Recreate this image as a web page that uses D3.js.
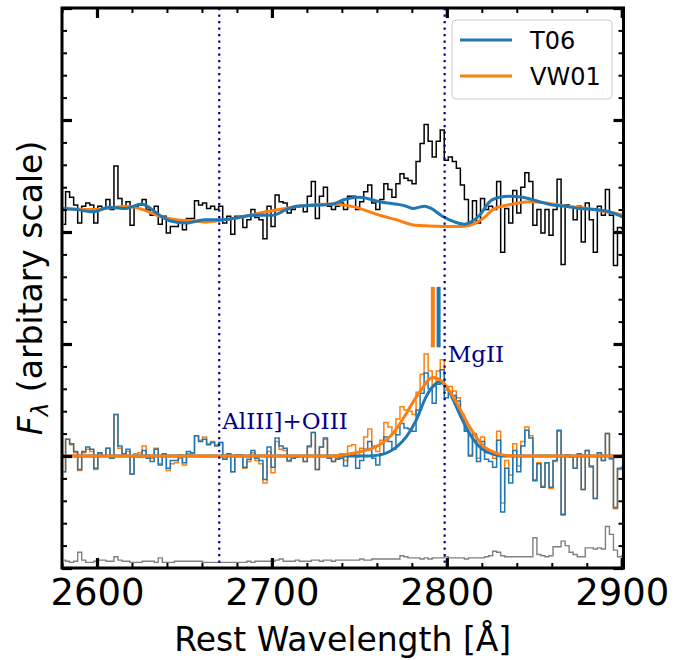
<!DOCTYPE html>
<html><head><meta charset="utf-8">
<script src="https://cdn.jsdelivr.net/npm/d3@7"></script>
<style>body{margin:0;background:#fff;} svg{display:block;}</style>
</head><body>
<svg id="chart" width="697" height="660"></svg>
<script>
// ---------- data ----------
const firstWave = 2580.9;   // centre of first spectral bin [Å]
const binStep = 2.303;      // bin width [Å]

const fluxObs = [
 3.07,3.36,3.31,3.24,3.08,3.23,3.26,3.24,3.08,3.23,
 3.21,3.29,3.20,3.59,3.30,3.23,3.27,3.06,3.23,3.24,
 3.29,3.20,3.15,3.23,3.07,3.14,2.99,3.05,3.05,3.09,
 3.02,3.12,3.12,3.28,3.24,3.26,3.21,3.23,3.20,3.23,
 3.08,3.14,2.98,3.14,3.14,3.04,3.11,3.20,3.13,3.11,
 2.94,3.23,3.05,3.33,3.27,3.26,3.17,3.20,3.22,3.23,
 3.18,3.32,3.45,3.12,3.32,3.40,3.23,3.20,3.23,3.26,
 3.20,3.32,3.32,3.20,3.27,3.36,3.42,3.26,3.20,3.29,
 3.43,3.38,3.31,3.43,3.52,3.48,3.46,3.43,3.63,3.79,
 3.96,3.81,3.67,3.81,3.91,3.64,3.67,3.63,3.57,3.42,
 3.29,3.08,3.28,3.08,3.30,3.20,3.23,3.20,3.45,2.82,
 3.21,3.08,3.37,3.17,3.40,3.53,3.45,3.06,3.20,2.99,
 3.20,2.97,3.20,3.47,2.71,3.24,3.22,3.11,3.23,2.91,
 3.26,3.11,2.82,3.23,3.15,3.38,3.15,2.70,3.04,3.03];

const residT06 = [
 0.86,1.15,1.11,1.04,0.88,1.04,1.08,1.06,0.89,1.03,
 1.00,1.07,0.98,1.37,1.09,1.02,1.06,0.84,1.00,0.99,
 1.05,0.98,0.95,1.06,0.92,1.02,0.89,0.96,0.96,1.01,
 0.94,1.04,1.03,1.18,1.13,1.15,1.10,1.12,1.09,1.12,
 0.97,1.02,0.86,1.01,1.01,0.90,0.97,1.05,0.98,0.96,
 0.79,1.08,0.90,1.16,1.09,1.07,0.96,0.98,0.99,1.00,
 0.95,1.09,1.21,0.88,1.08,1.16,0.98,0.95,0.97,0.98,
 0.91,1.02,1.02,0.89,0.96,1.06,1.13,0.98,0.92,1.02,
 1.17,1.13,1.06,1.19,1.29,1.25,1.24,1.22,1.41,1.56,
 1.74,1.60,1.47,1.64,1.77,1.52,1.57,1.54,1.49,1.35,
 1.22,1.00,1.19,0.95,1.13,0.97,0.95,0.90,1.14,0.50,
 0.89,0.76,1.05,0.86,1.09,1.23,1.16,0.78,0.93,0.72,
 0.94,0.72,0.96,1.23,0.48,1.01,1.00,0.89,1.02,0.70,
 1.05,0.91,0.62,1.03,0.96,1.20,0.98,0.54,0.89,0.90];

const residVW01 = [
 0.86,1.15,1.10,1.03,0.87,1.03,1.06,1.04,0.88,1.02,
 1.00,1.07,0.98,1.37,1.07,1.00,1.04,0.84,1.02,1.03,
 1.09,1.01,0.98,1.07,0.93,1.01,0.87,0.93,0.94,0.98,
 0.92,1.02,1.02,1.18,1.14,1.17,1.11,1.13,1.10,1.12,
 0.97,1.02,0.86,1.01,1.00,0.89,0.95,1.03,0.96,0.93,
 0.76,1.04,0.85,1.13,1.06,1.05,0.95,0.98,0.99,1.00,
 0.95,1.08,1.21,0.88,1.08,1.15,0.98,0.95,0.98,1.02,
 0.96,1.09,1.10,0.99,1.07,1.17,1.24,1.09,1.04,1.14,
 1.30,1.26,1.20,1.33,1.44,1.41,1.40,1.37,1.57,1.73,
 1.91,1.76,1.62,1.76,1.86,1.59,1.62,1.58,1.52,1.37,
 1.23,1.01,1.20,0.98,1.17,1.03,1.03,0.98,1.22,0.58,
 0.96,0.83,1.11,0.91,1.13,1.26,1.18,0.79,0.94,0.73,
 0.94,0.71,0.95,1.22,0.47,1.01,0.99,0.89,1.01,0.70,
 1.05,0.90,0.62,1.03,0.96,1.20,0.97,0.53,0.88,0.88];

const fluxErr = [
 0.07,0.06,0.05,0.06,0.14,0.07,0.05,0.05,0.06,0.07,
 0.07,0.06,0.06,0.10,0.07,0.06,0.06,0.05,0.05,0.05,
 0.06,0.06,0.06,0.05,0.09,0.05,0.05,0.05,0.06,0.06,
 0.06,0.06,0.06,0.06,0.06,0.05,0.05,0.05,0.05,0.05,
 0.05,0.05,0.05,0.05,0.05,0.05,0.06,0.05,0.06,0.06,
 0.06,0.06,0.06,0.07,0.08,0.06,0.06,0.06,0.07,0.06,
 0.06,0.06,0.07,0.07,0.06,0.07,0.07,0.06,0.07,0.07,
 0.07,0.07,0.07,0.07,0.08,0.07,0.07,0.08,0.08,0.08,
 0.08,0.08,0.08,0.08,0.11,0.10,0.09,0.09,0.09,0.08,
 0.09,0.08,0.09,0.09,0.09,0.10,0.09,0.09,0.09,0.09,
 0.08,0.09,0.09,0.09,0.09,0.10,0.11,0.15,0.14,0.11,
 0.10,0.10,0.10,0.10,0.10,0.10,0.10,0.27,0.12,0.11,
 0.10,0.11,0.19,0.19,0.24,0.20,0.14,0.12,0.10,0.10,
 0.18,0.18,0.17,0.18,0.17,0.37,0.30,0.16,0.10,0.11];

// continuum models (wavelength, flux)
const contT06 = [[2580,3.21],[2588.2,3.20],[2597.7,3.18],[2607.3,3.22],[2616.8,3.21],[2625.4,3.25],
 [2635.8,3.15],[2641.5,3.10],[2651.1,3.08],[2661.5,3.11],[2670.1,3.11],[2677.7,3.12],[2689.1,3.15],
 [2700.6,3.15],[2708.2,3.20],[2713.9,3.23],[2727.3,3.24],[2734.9,3.25],[2741.5,3.29],[2750.1,3.31],
 [2761.5,3.27],[2776.8,3.23],[2780.4,3.21],[2787.3,3.23],[2791.1,3.21],[2797.5,3.14],[2804.4,3.09],
 [2810.1,3.07],[2814.0,3.09],[2818.7,3.15],[2824.4,3.27],[2830.1,3.31],[2835.8,3.32],[2843.4,3.31],
 [2853.0,3.27],[2860.6,3.24],[2868.2,3.23],[2875.8,3.21],[2885.4,3.20],[2893.0,3.18],[2901,3.13]];
const contVW01 = [[2580,3.21],[2597.7,3.20],[2616.8,3.23],[2626.3,3.20],[2635.8,3.14],[2645.4,3.11],
 [2654.9,3.10],[2661.5,3.09],[2677.7,3.12],[2696.8,3.18],[2715.8,3.23],[2734.9,3.25],[2741.5,3.24],
 [2748.1,3.22],[2759.5,3.16],[2770.9,3.11],[2782.3,3.06],[2797.5,3.05],[2808.9,3.05],[2816.5,3.08],
 [2821.5,3.13],[2826.3,3.20],[2837.7,3.25],[2847.3,3.27],[2856.8,3.26],[2868.2,3.23],[2879.6,3.21],
 [2891.1,3.18],[2901,3.15]];

// MgII line fits (wavelength, flux)
const lineT06 = [[2580,1.0],[2755,1.0],[2762,1.01],[2767.3,1.04],[2772,1.09],[2776.8,1.17],[2782.5,1.32],
 [2788.2,1.53],[2792,1.62],[2795.5,1.66],[2799.7,1.62],[2805.4,1.44],[2809,1.32],[2813,1.20],[2817,1.11],
 [2821.5,1.05],[2826,1.02],[2832,1.0],[2901,1.0]];
const lineVW01 = [[2580,1.0],[2735,1.0],[2745,1.02],[2751,1.04],[2757.7,1.07],[2767.3,1.17],[2772,1.26],
 [2776.8,1.38],[2784.4,1.57],[2792,1.70],[2797.7,1.66],[2805.4,1.48],[2813,1.26],[2821.5,1.08],
 [2826,1.04],[2832,1.01],[2840,1.0],[2901,1.0]];

const peakMarks = [{name:'VW01', wave:2792.0, lo:1.97, hi:2.51}, {name:'T06', wave:2795.3, lo:1.97, hi:2.51}];
const lineIds = [{label:'AlIII]+OIII', wave:2669.9, ty:1.24}, {label:'MgII', wave:2798.75, ty:1.84}];
const xMajor = [2600, 2700, 2800, 2900];
const yMajor = [0, 1, 2, 3, 4, 5];
const seriesNames = ['T06', 'VW01'];

// ---------- layout ----------
const C = {blue:'#1f77b4', orange:'#ff7f0e', navy:'#00008b'};
const L = 62, R = 623.5, T = 8, B = 568;
const svg = d3.select('#chart');
const x = d3.scaleLinear().domain([2580, 2901]).range([L, R]);
const y = d3.scaleLinear().domain([0, 5]).range([B, T]);
const waves = fluxObs.map((_, i) => firstWave + binStep * i);

svg.append('defs').append('clipPath').attr('id','clip')
  .append('rect').attr('x', L).attr('y', T).attr('width', R - L).attr('height', B - T);
const plot = svg.append('g').attr('clip-path','url(#clip)');

const stepLine = d3.line().x((d,i) => x(waves[i])).y(d => y(d)).curve(d3.curveStep);
const smooth = d3.line().x(d => x(d[0])).y(d => y(d[1])).curve(d3.curveMonotoneX);

// error spectrum
plot.append('path').attr('d', stepLine(fluxErr)).attr('fill','none').attr('stroke','#808080').attr('stroke-width',1.4);
// observed spectrum + continua
plot.append('path').attr('d', stepLine(fluxObs)).attr('fill','none').attr('stroke','#000').attr('stroke-width',1.5);
plot.append('path').attr('d', smooth(contVW01)).attr('fill','none').attr('stroke',C.orange).attr('stroke-width',3);
plot.append('path').attr('d', smooth(contT06)).attr('fill','none').attr('stroke',C.blue).attr('stroke-width',3);
// residual spectra
plot.append('path').attr('d', stepLine(residVW01)).attr('fill','none').attr('stroke',C.orange).attr('stroke-width',1.5);
plot.append('path').attr('d', stepLine(residT06)).attr('fill','none').attr('stroke',C.blue).attr('stroke-width',1.5);
// line fits
plot.append('path').attr('d', smooth(lineT06)).attr('fill','none').attr('stroke',C.blue).attr('stroke-width',3);
plot.append('path').attr('d', smooth(lineVW01)).attr('fill','none').attr('stroke',C.orange).attr('stroke-width',3);

// peak markers
plot.selectAll('line.peak').data(peakMarks).join('line').attr('class','peak')
  .attr('x1', d => x(d.wave)).attr('x2', d => x(d.wave))
  .attr('y1', d => y(d.lo)).attr('y2', d => y(d.hi))
  .attr('stroke', d => d.name === 'T06' ? C.blue : C.orange).attr('stroke-width', 4);

// line identifications
plot.selectAll('line.ident').data(lineIds).join('line').attr('class','ident')
  .attr('x1', d => x(d.wave)).attr('x2', d => x(d.wave)).attr('y1', T).attr('y2', B)
  .attr('stroke', C.navy).attr('stroke-width', 2.2).attr('stroke-dasharray','2.2,4.3');
svg.selectAll('text.ident').data(lineIds).join('text').attr('class','ident')
  .attr('x', d => x(d.wave) + 3).attr('y', d => y(d.ty))
  .attr('fill', C.navy).attr('font-family','DejaVu Serif').attr('font-size', 23)
  .text(d => d.label);

// ---------- axes ----------
const xMinor = d3.range(2580, 2901, 20).filter(v => !xMajor.includes(v));
const yMinor = d3.range(0, 5.001, 0.2).map(v => +v.toFixed(1)).filter(v => !yMajor.includes(v));
function styleAxis(g, w) {
  g.select('.domain').remove();
  g.selectAll('.tick line').attr('stroke','#000').attr('stroke-width', w);
}
const fontAx = 'DejaVu Sans';
svg.append('g').attr('transform',`translate(0,${B})`)
  .call(d3.axisBottom(x).tickValues(xMajor).tickSizeInner(-10).tickSizeOuter(0).tickPadding(11).tickFormat(d3.format('d')))
  .call(g => styleAxis(g, 3.2))
  .call(g => g.selectAll('text').attr('font-family', fontAx).attr('font-size', 37).attr('fill','#000'));
svg.append('g').attr('transform',`translate(0,${B})`)
  .call(d3.axisBottom(x).tickValues(xMinor).tickSizeInner(-5).tickSizeOuter(0).tickFormat(''))
  .call(g => styleAxis(g, 2));
svg.append('g').attr('transform',`translate(0,${T})`)
  .call(d3.axisTop(x).tickValues(xMajor).tickSizeInner(-10).tickSizeOuter(0).tickFormat(''))
  .call(g => styleAxis(g, 3.2));
svg.append('g').attr('transform',`translate(0,${T})`)
  .call(d3.axisTop(x).tickValues(xMinor).tickSizeInner(-5).tickSizeOuter(0).tickFormat(''))
  .call(g => styleAxis(g, 2));
svg.append('g').attr('transform',`translate(${L},0)`)
  .call(d3.axisLeft(y).tickValues(yMajor).tickSizeInner(-10).tickSizeOuter(0).tickFormat(''))
  .call(g => styleAxis(g, 3.2));
svg.append('g').attr('transform',`translate(${L},0)`)
  .call(d3.axisLeft(y).tickValues(yMinor).tickSizeInner(-5).tickSizeOuter(0).tickFormat(''))
  .call(g => styleAxis(g, 2));
svg.append('g').attr('transform',`translate(${R},0)`)
  .call(d3.axisRight(y).tickValues(yMajor).tickSizeInner(-10).tickSizeOuter(0).tickFormat(''))
  .call(g => styleAxis(g, 3.2));
svg.append('g').attr('transform',`translate(${R},0)`)
  .call(d3.axisRight(y).tickValues(yMinor).tickSizeInner(-5).tickSizeOuter(0).tickFormat(''))
  .call(g => styleAxis(g, 2));

svg.append('rect').attr('x', L).attr('y', T).attr('width', R - L).attr('height', B - T)
  .attr('fill','none').attr('stroke','#000').attr('stroke-width',3);

// axis titles
svg.append('text').attr('x', (L + R) / 2).attr('y', 651).attr('text-anchor','middle')
  .attr('font-family', fontAx).attr('font-size', 33).attr('fill','#000').text('Rest Wavelength [Å]');
const yl = svg.append('text').attr('transform',`translate(42,${(T + B) / 2}) rotate(-90)`)
  .attr('text-anchor','middle').attr('font-family', fontAx).attr('font-size', 33).attr('fill','#000');
yl.append('tspan').attr('font-style','italic').text('F');
yl.append('tspan').attr('font-style','italic').attr('font-size', 23).attr('dy', 6).text('λ');
yl.append('tspan').attr('dy', -6).text(' (arbitary scale)');

// legend
const lg = svg.append('g');
lg.append('rect').attr('x', 452).attr('y', 20).attr('width', 160).attr('height', 79).attr('rx', 4)
  .attr('fill','#fff').attr('fill-opacity',0.8).attr('stroke','#cccccc').attr('stroke-width',1);
const lgItems = lg.selectAll('g.item').data(seriesNames).join('g').attr('class','item')
  .attr('transform', (d, i) => `translate(0,${40 + i * 36})`);
lgItems.append('line').attr('x1', 460).attr('x2', 512).attr('y1', 0).attr('y2', 0)
  .attr('stroke', d => d === 'T06' ? C.blue : C.orange).attr('stroke-width', 3);
lgItems.append('text').attr('x', 530).attr('y', 9).attr('font-family', fontAx).attr('font-size', 24)
  .attr('fill','#000').text(d => d);
</script>
</body></html>
